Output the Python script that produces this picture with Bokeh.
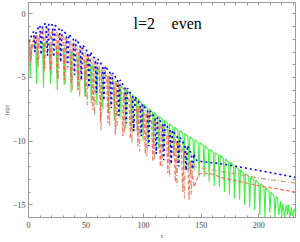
from bokeh.plotting import figure
from bokeh.models import FixedTicker, LinearAxis, Range1d, Label
from bokeh.embed import file_html
from bokeh.resources import INLINE

# ---- data ----
# green (solid): times of the narrow dips, envelope value at each dip, depth of each dip
green_dip_t = [1.5, 7, 13, 19, 25, 31, 37, 43, 49, 54.5, 59.5, 64.5, 69.5, 74.5, 79.5, 84.5,
               89.5, 94.5, 99.5, 104.2, 108.6, 113, 117.4, 121.8, 126.2, 130.6, 135, 139.4,
               143.8, 148.2, 152.6, 157, 161.4, 165.8, 170.2, 174.6, 179, 183.4, 187.8, 192.2,
               196.6, 201, 205.4, 209.8, 214.2]
green_top = [-2.5, -2.35, -2.3, -2.4, -2.6, -2.8, -3.05, -3.35, -3.7, -4.05, -4.35, -4.65,
             -4.95, -5.3, -5.65, -6.0, -6.35, -6.7, -7.1, -7.45, -7.75, -8.05, -8.35, -8.65,
             -8.9, -9.15, -9.4, -9.65, -9.9, -10.1, -10.35, -10.65, -10.9, -11.1, -11.4, -11.65,
             -11.95, -12.25, -12.55, -12.8, -13.05, -13.35, -13.65, -14.0, -14.35]
green_dip = [-5.0, -5.5, -5.8, -5.5, -6.0, -5.6, -6.2, -6.0, -6.5, -7.0, -7.2, -7.5, -7.8, -8.4,
             -8.2, -9.0, -9.0, -9.3, -10.0, -10.2, -10.5, -10.6, -10.8, -11.2, -11.2, -11.5,
             -12.0, -12.2, -12.3, -12.8, -12.8, -13.2, -13.5, -13.6, -14.0, -14.2, -14.5, -14.6,
             -15.0, -15.2, -15.4, -15.8, -16.0, -15.6, -16.0]
green_tail_t = [216.4, 217.5, 219, 220, 221, 222.5, 224, 225, 226, 227, 228.5, 229.5, 231, 232]
green_tail_y = [-14.5, -15.8, -14.7, -15.9, -14.9, -16.0, -15.0, -15.8, -15.0, -16.0, -15.2,
                -15.9, -15.3, -15.6]

# blue (dotted)
blue_dip_t = [5.5, 11, 16.5, 22, 28, 34, 40, 46, 52.5, 59, 65.5, 72, 78.5, 85, 91.5, 98, 104.5,
              111, 117.5, 124, 130.5, 137, 142.5]
blue_top = [-1.4, -0.9, -0.75, -0.9, -1.25, -1.6, -2.0, -2.45, -3.0, -3.55, -4.1, -4.65, -5.2,
            -5.85, -6.5, -7.1, -7.65, -8.15, -8.65, -9.15, -9.7, -10.35, -11.0]
blue_dip = [-3.0, -3.2, -3.3, -3.4, -3.8, -4.2, -4.8, -5.2, -5.8, -6.2, -6.8, -7.4, -8.0, -8.6,
            -9.2, -9.6, -10.4, -11.0, -11.5, -11.8, -12.0, -12.3, -12.2]
blue_tail_t = [146, 150, 169, 200, 232]
blue_tail_y = [-11.5, -11.6, -11.8, -12.3, -12.85]

# red (dashed)
red_dip_t = [2, 8, 13.5, 19, 25, 31, 37, 43, 49.5, 56, 62.5, 69, 75.5, 82, 88.5, 95, 101.5,
             108, 114.5, 121, 127.5, 134, 139.5]
red_top = [-2.3, -1.7, -1.35, -1.4, -1.65, -2.0, -2.4, -2.8, -3.3, -3.85, -4.4, -4.95, -5.5,
           -6.15, -6.75, -7.3, -7.85, -8.35, -8.9, -9.45, -10.05, -10.8, -11.6]
red_dip = [-3.8, -4.0, -4.3, -4.5, -5.0, -5.2, -5.5, -6.0, -6.5, -7.6, -8.5, -8.6, -9.5, -9.6,
           -9.8, -10.4, -11.0, -11.6, -12.0, -12.5, -13.2, -14.0, -14.6]
red_tail_t = [144, 148, 152, 160, 169, 200, 232]
red_tail_y = [-13.6, -12.6, -12.5, -12.6, -12.9, -13.5, -14.0]

# tan (dash-dot)
tan_dip_t = [2.5, 8.5, 14, 20, 26, 32, 38, 44.5, 51, 57.5, 63, 70.5, 77, 83.5, 90, 96.5, 103,
             109.5, 116, 122.5, 129, 135.5, 141.5]
tan_top = [-2.1, -1.5, -1.15, -1.2, -1.5, -1.85, -2.2, -2.65, -3.15, -3.65, -4.2, -4.75, -5.3,
           -5.9, -6.5, -7.1, -7.65, -8.15, -8.7, -9.3, -9.95, -10.75, -11.6]
tan_dip = [-3.5, -4.2, -4.6, -4.8, -5.2, -5.5, -6.0, -6.5, -7.2, -8.0, -9.2, -8.8, -9.0, -9.4,
           -10.2, -10.8, -11.2, -11.5, -12.0, -12.8, -13.5, -14.5, -14.2]
tan_tail_t = [145, 149, 169, 200, 232]
tan_tail_y = [-12.0, -12.1, -12.4, -12.9, -13.3]

x_major = [0, 50, 100, 150, 200]
x_minor = list(range(0, 240, 10))
y_major = [-15, -10, -5, 0]
y_minor = list(range(-16, 1))


def zig(dip_t, top, dip, half, tail_t, tail_y, start_y):
    xs, ys = [0.0], [start_y]
    for t, a, d in zip(dip_t, top, dip):
        xs += [max(t - half, 0.0), t, t + half]
        ys += [a, d, a]
    return xs + tail_t, ys + tail_y


gx, gy = zig(green_dip_t, green_top, green_dip, 0.8, green_tail_t, green_tail_y, green_top[0])
bx, by = zig(blue_dip_t, blue_top, blue_dip, 1.1, blue_tail_t, blue_tail_y, -2.2)
rx, ry = zig(red_dip_t, red_top, red_dip, 1.1, red_tail_t, red_tail_y, -2.5)
tx, ty = zig(tan_dip_t, tan_top, tan_dip, 1.1, tan_tail_t, tan_tail_y, -2.3)

FONT = "Liberation Serif"
GRAY = "#9a9a9a"

p = figure(width=300, height=242, output_backend="svg", toolbar_location=None,
           x_range=Range1d(0, 232), y_range=Range1d(-16, 0.89),
           min_border_left=28, min_border_right=5, min_border_top=2, min_border_bottom=25)
p.grid.visible = False
p.outline_line_color = GRAY
p.background_fill_color = "white"
p.border_fill_color = "white"

p.line(gx, gy, line_color="#44f044", line_width=1.1)
p.line(tx, ty, line_color="#cf9e7a", line_width=1.2, line_dash="5 2 1 2")
p.line(rx, ry, line_color="#ff5a48", line_width=1.2, line_dash="4 2", line_alpha=0.85)
p.line(bx, by, line_color="#0000ff", line_width=1.6, line_dash="2 3")

xb = p.xaxis[0]
yl = p.yaxis[0]
xb.ticker = FixedTicker(ticks=x_major, minor_ticks=x_minor)
yl.ticker = FixedTicker(ticks=y_major, minor_ticks=y_minor)
xb.axis_label = "t"
yl.axis_label = "ln|ρ|"

top = LinearAxis(ticker=FixedTicker(ticks=[], minor_ticks=x_minor))
right = LinearAxis(ticker=FixedTicker(ticks=[], minor_ticks=y_minor))
p.add_layout(top, "above")
p.add_layout(right, "right")

for ax in (xb, yl, top, right):
    ax.axis_line_color = GRAY
    ax.major_tick_line_color = GRAY
    ax.minor_tick_line_color = GRAY
    ax.major_tick_in = 4
    ax.major_tick_out = 0
    ax.minor_tick_in = 2
    ax.minor_tick_out = 0
    ax.major_label_text_font = FONT
    ax.axis_label_text_font = FONT
    ax.axis_label_text_font_style = "normal"
for ax in (top, right):
    ax.minor_tick_in = 3
    ax.major_label_standoff = 0

xb.major_label_text_font_size = "8px"
xb.major_label_standoff = 4
xb.axis_label_text_font_size = "7px"
xb.axis_label_standoff = 1
xb.axis_label_text_color = "#333333"
yl.major_label_text_font_size = "8px"
yl.major_label_standoff = 3
yl.axis_label_text_font_size = "6px"
yl.axis_label_standoff = 0
yl.axis_label_text_color = "#444444"
yl.major_label_overrides = {-15: "−15", -10: "−10", -5: "−5", 0: "0"}

# in-plot caption
p.add_layout(Label(x=91.3, y=-1.39, text="l=2", text_font=FONT, text_font_size="16px",
                   text_color="black"))
p.add_layout(Label(x=124.3, y=-1.39, text="even", text_font=FONT, text_font_size="16px",
                   text_color="black"))

open("out.html", "w").write(file_html(p, INLINE))
